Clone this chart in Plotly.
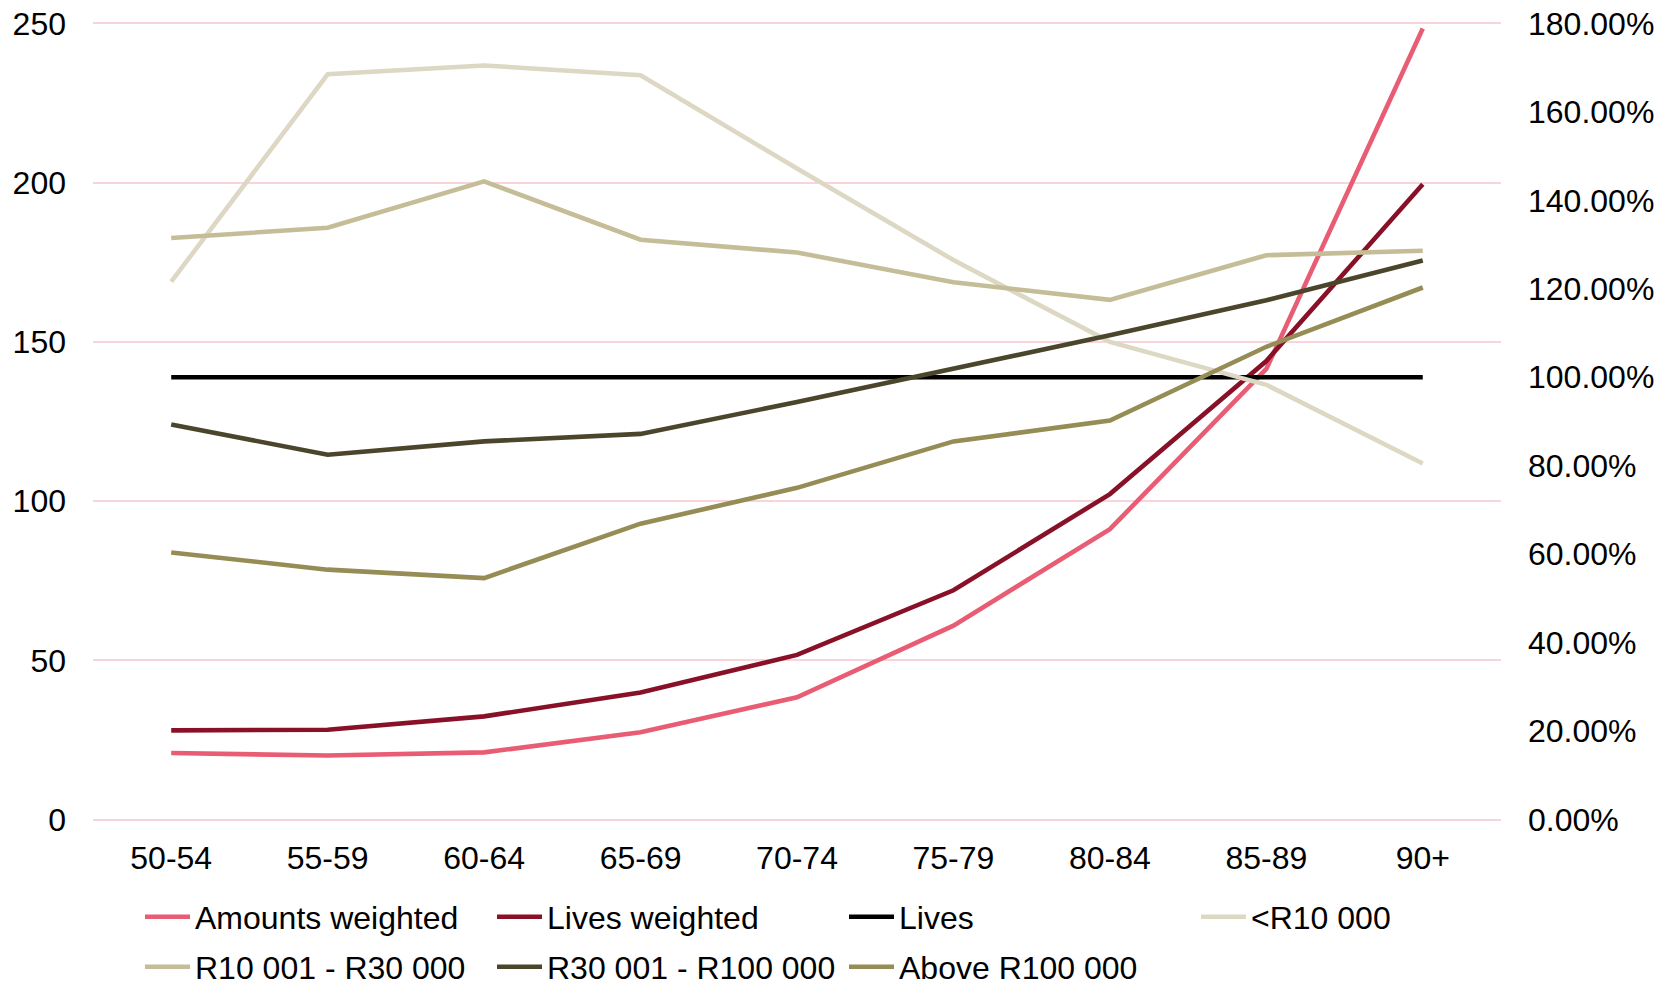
import plotly.graph_objects as go

age_bands = ["50-54", "55-59", "60-64", "65-69", "70-74", "75-79", "80-84", "85-89", "90+"]

# Weighted mortality (left axis)
amounts_weighted = [20.9, 20.1, 21.1, 27.4, 38.4, 60.9, 91.2, 141.5, 248.4]
lives_weighted = [28.0, 28.2, 32.4, 39.9, 51.7, 72.0, 102.2, 144.0, 199.5]

# Relative to Lives (right axis)
lives = [1.0, 1.0, 1.0, 1.0, 1.0, 1.0, 1.0, 1.0, 1.0]
below_r10000 = [1.216, 1.685, 1.705, 1.683, 1.472, 1.265, 1.080, 0.983, 0.805]
r10001_r30000 = [1.315, 1.338, 1.443, 1.311, 1.282, 1.215, 1.175, 1.276, 1.286]
r30001_r100000 = [0.893, 0.825, 0.855, 0.872, 0.944, 1.020, 1.095, 1.174, 1.264]
above_r100000 = [0.604, 0.565, 0.546, 0.669, 0.750, 0.855, 0.902, 1.069, 1.203]

FONT = "Liberation Sans, Arial, sans-serif"
FS = 32
W, H = 1675, 985
LW = 4.6
EPS = 0.45  # small pad so the 0 and 250 gridlines are drawn inside the plot

fig = go.Figure()

left_series = [
    ("Amounts weighted", amounts_weighted, "#E95D74", "legend"),
    ("Lives weighted", lives_weighted, "#891127", "legend"),
]
right_series = [
    ("Lives", lives, "#000000", "legend"),
    ("<R10 000", below_r10000, "#DDD8C3", "legend"),
    ("R10 001 - R30 000", r10001_r30000, "#C5BD98", "legend2"),
    ("R30 001 - R100 000", r30001_r100000, "#4B452C", "legend2"),
    ("Above R100 000", above_r100000, "#968C55", "legend2"),
]

for name, vals, color, lg in left_series:
    fig.add_trace(go.Scatter(x=age_bands, y=vals, name=name, mode="lines",
                             line=dict(color=color, width=LW), yaxis="y", legend=lg))
for name, vals, color, lg in right_series:
    fig.add_trace(go.Scatter(x=age_bands, y=vals, name=name, mode="lines",
                             line=dict(color=color, width=LW), yaxis="y2", legend=lg))


def legend_row(yc):
    return dict(
        orientation="h", x=(145 - 5) / W, y=1 - yc / H, xanchor="left", yanchor="middle",
        xref="container", yref="container",
        entrywidth=292, entrywidthmode="pixels",
        font=dict(family=FONT, size=FS, color="#000000"),
        itemwidth=45, traceorder="normal", bgcolor="rgba(0,0,0,0)",
    )


fig.update_layout(
    width=W, height=H,
    margin=dict(l=93, r=174, t=22, b=164),
    paper_bgcolor="white", plot_bgcolor="white",
    font=dict(family=FONT, size=FS, color="#000000"),
    showlegend=True,
    legend=legend_row(917),
    legend2=legend_row(967),
    xaxis=dict(
        type="category", range=[-0.5, 8.5], showgrid=False, zeroline=False,
        showline=False, ticks="", ticklabelstandoff=15, automargin=False,
        tickfont=dict(family=FONT, size=FS),
    ),
    yaxis=dict(
        range=[-EPS, 250 + EPS], tick0=0, dtick=50, showgrid=True, gridcolor="#F8D4DB",
        gridwidth=2, zeroline=False, showline=False, ticks="", ticklabelstandoff=26,
        automargin=False, tickfont=dict(family=FONT, size=FS),
    ),
    yaxis2=dict(
        range=[-EPS * 1.8 / 250, 1.8 + EPS * 1.8 / 250], tick0=0, dtick=0.2,
        tickformat=".2%", overlaying="y", side="right",
        showgrid=False, zeroline=False, showline=False, ticks="", ticklabelstandoff=26,
        automargin=False, tickfont=dict(family=FONT, size=FS),
    ),
)

fig.write_html("out.html")
